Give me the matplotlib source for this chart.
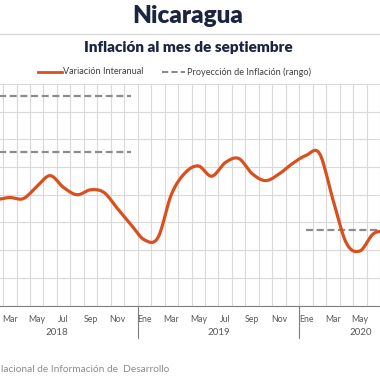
import numpy as np
import matplotlib
matplotlib.use("Agg")
import matplotlib.pyplot as plt

plt.rcParams['font.family'] = ['Lato', 'DejaVu Sans']

# categories: Jan 2018 .. Sep 2020 (the chart is cropped at both sides)
meses = ["Ene", "Feb", "Mar", "Abr", "May", "Jun", "Jul", "Ago", "Sep", "Oct", "Nov", "Dic"]
anios = ["2018", "2019", "2020"]
n_cat = 33

# variación interanual (%), Jan 2018 .. Jul 2020
variacion = [4.75, 4.82, 4.90, 4.86, 5.29, 5.69, 5.26, 5.00, 5.18, 5.08, 4.50, 3.92,
             3.37, 3.45, 5.01, 5.78, 6.04, 5.67, 6.16, 6.31, 5.76, 5.51, 5.75, 6.13,
             6.42, 6.49, 4.82, 3.25, 2.97, 3.59, 3.70]

# proyección de inflación (rango)
proy_2018 = [8.55, 6.54]
proy_2020 = [3.71]

naranja = "#D9501E"
gris = "#8c8c8c"


def catmull_rom(x, y, n=24):
    # smoothed line like the spreadsheet "smooth line" option
    p = np.column_stack([x, y]).astype(float)
    p = np.vstack([2 * p[0] - p[1], p, 2 * p[-1] - p[-2]])
    t = np.linspace(0, 1, n, endpoint=False)[:, None]
    out = []
    for i in range(1, len(p) - 2):
        p0, p1, p2, p3 = p[i - 1], p[i], p[i + 1], p[i + 2]
        seg = 0.5 * ((2 * p1) + (-p0 + p2) * t + (2 * p0 - 5 * p1 + 4 * p2 - p3) * t ** 2
                     + (-p0 + 3 * p1 - 3 * p2 + p3) * t ** 3)
        out.append(seg)
    out.append(p[-2][None, :])
    out = np.vstack(out)
    return out[:, 0], out[:, 1]


W, H = 380, 380
fig = plt.figure(figsize=(W / 100, H / 100), dpi=100)

# plot area runs past both figure edges, as in the reference
left_px, right_px, top_px, bot_px = -23.9, 420.5, 84, 305.5
ax = fig.add_axes([left_px / W, 1 - bot_px / H, (right_px - left_px) / W, (bot_px - top_px) / H])

x = np.arange(len(variacion))
sx, sy = catmull_rom(x, variacion)
ax.plot(sx, sy, color=naranja, lw=2.3, solid_capstyle='round', zorder=4)

for v in proy_2018:
    ax.plot([0, 11], [v, v], color=gris, lw=1.6, ls=(0, (3.2, 1.6)), zorder=3)
for v in proy_2020:
    ax.plot([24, 32], [v, v], color=gris, lw=1.6, ls=(0, (3.2, 1.6)), zorder=3)

ax.set_xlim(-0.5, n_cat - 0.5)
ax.set_ylim(1, 9)
ax.set_yticks(np.arange(1, 10, 1))
ax.set_xticks(np.arange(-0.5, n_cat, 1), minor=True)
ax.grid(True, which='minor', axis='x', color='#d9d9d9', lw=0.8)
ax.grid(True, which='major', axis='y', color='#d9d9d9', lw=0.8)
ax.tick_params(axis='y', left=False, labelleft=False)
ax.tick_params(axis='x', which='both', bottom=False)

# only the month labels that fall inside the visible picture
ticks = np.arange(2, 29, 2)
ax.set_xticks(ticks)
ax.set_xticklabels([meses[i % 12] for i in ticks], fontsize=6.3, color='#595959')
ax.tick_params(axis='x', pad=3)

for s in ['top', 'right', 'left']:
    ax.spines[s].set_visible(False)
ax.spines['bottom'].set_color('#7f7f7f')
ax.spines['bottom'].set_linewidth(0.8)

trans = ax.get_xaxis_transform()
for b in [-0.5, 11.5, 23.5]:
    ax.plot([b, b], [0, -0.148], transform=trans, color='#7f7f7f', lw=0.8, clip_on=False)
centros = [5.5, 17.5, 28.1]
for c, a in zip(centros, anios):
    ax.text(c, -0.12, a, transform=trans, ha='center', va='center', fontsize=7, color='#595959')

# titles
fig.text(0.495, 1 - 16 / H, "Nicaragua", ha='center', va='center', fontsize=17.5,
         fontweight='heavy', color='#1b2541')
fig.add_artist(plt.Line2D([0, 1], [1 - 34 / H, 1 - 34 / H], color='#d9d9d9', lw=1))
fig.text(0.495, 1 - 47 / H, "Inflación al mes de septiembre", ha='center', va='center',
         fontsize=11, fontweight='heavy', color='#1b2541')

# legend
ly = 1 - 72 / H
fig.add_artist(plt.Line2D([38 / W, 62 / W], [ly, ly], color=naranja, lw=2))
fig.text(63 / W, ly, "Variación Interanual", ha='left', va='center', fontsize=6.6, color='#404040')
fig.add_artist(plt.Line2D([162 / W, 185 / W], [ly, ly], color=gris, lw=1.5, ls=(0, (3, 1.5))))
fig.text(187 / W, ly, "Proyección de Inflación (rango)", ha='left', va='center', fontsize=6.6, color='#404040')

fig.text(1 / W, 1 - 370 / H, "lacional de Información de  Desarrollo",
         ha='left', va='center', fontsize=7.3, color='#8c8c8c')

fig.savefig("out.png", dpi=100)
